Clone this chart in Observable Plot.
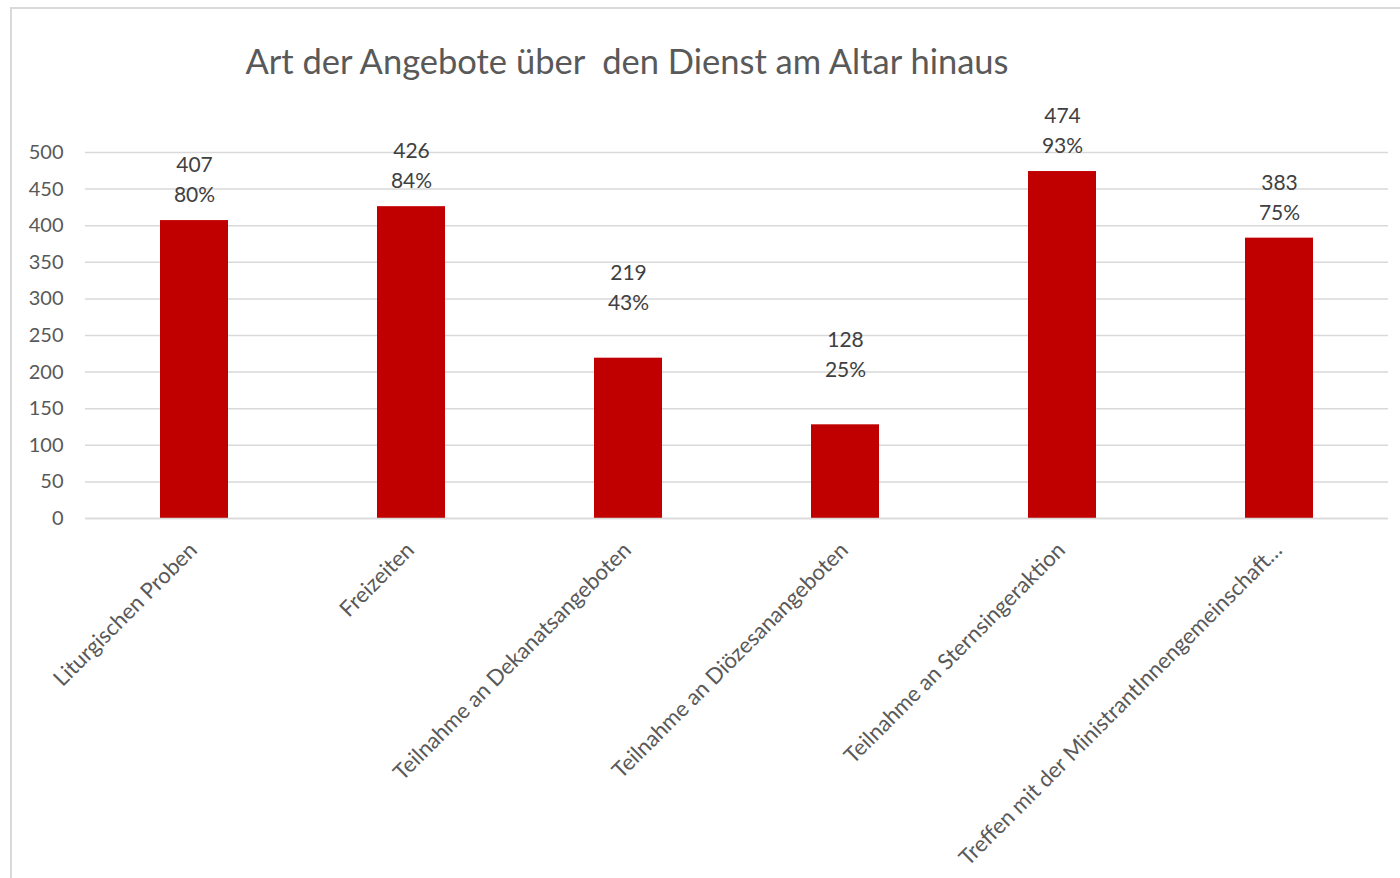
<!DOCTYPE html>
<html>
<head>
<meta charset="utf-8">
<script src="https://cdn.jsdelivr.net/npm/d3@7"></script>
<script src="https://cdn.jsdelivr.net/npm/@observablehq/plot@0.6"></script>
<style>
  html, body { margin: 0; padding: 0; background: #fff; }
  #wrap { position: relative; width: 1400px; height: 878px; overflow: hidden; font-family: Lato, "Open Sans", sans-serif; }
  #frame { position: absolute; left: 10px; top: 7px; width: 1400px; height: 900px; border-left: 2px solid #d9d9d9; border-top: 2px solid #d9d9d9; }
  #title { position: absolute; left: 627px; top: 40px; transform: translateX(-50%); white-space: pre; font-size: 34.5px; line-height: 1.2; color: #595959; }
  #chart { position: absolute; left: 0; top: 0; }
</style>
</head>
<body>
<div id="wrap">
  <div id="frame"></div>
  <div id="chart"></div>
  <div id="title">Art der Angebote über  den Dienst am Altar hinaus</div>
</div>
<script>
const categories = [
  "Liturgischen Proben",
  "Freizeiten",
  "Teilnahme an Dekanatsangeboten",
  "Teilnahme an Diözesanangeboten",
  "Teilnahme an Sternsingeraktion",
  "Treffen mit der MinistrantInnengemeinschaft…"
];
const counts = [407, 426, 219, 128, 474, 383];
const percents = ["80%", "84%", "43%", "25%", "93%", "75%"];
const yTicks = [0, 50, 100, 150, 200, 250, 300, 350, 400, 450, 500];

const data = categories.map((c, i) => ({cat: c, n: counts[i], pct: percents[i]}));
// labels of the two shorter bars sit higher in the reference
const raised = new Set([categories[2], categories[3]]);
const low = data.filter(d => !raised.has(d.cat));
const high = data.filter(d => raised.has(d.cat));

const labelStyle = {fontSize: 21, fill: "#404040"};

const chart = Plot.plot({
  width: 1400,
  height: 878,
  marginLeft: 85,
  marginRight: 12,
  marginTop: 152,
  marginBottom: 360,
  style: {fontFamily: "Lato, 'Open Sans', sans-serif", background: "transparent", overflow: "visible"},
  x: {domain: categories, paddingInner: 0.687, paddingOuter: 0.3435, label: null},
  y: {domain: [0, 500], label: null},
  marks: [
    Plot.gridY(yTicks, {stroke: "#d9d9d9", strokeOpacity: 1, strokeWidth: 1.5}),
    Plot.axisY(yTicks, {tickSize: 0, tickPadding: 22, fontSize: 20, fill: "#595959", label: null}),
    Plot.barY(data, {x: "cat", y: "n", fill: "#c00000"}),
    Plot.ruleY([0], {stroke: "#d9d9d9", strokeWidth: 1.5}),
    Plot.text(low, {x: "cat", y: "n", text: "pct", dy: -25, ...labelStyle}),
    Plot.text(low, {x: "cat", y: "n", text: d => String(d.n), dy: -55, ...labelStyle}),
    Plot.text(high, {x: "cat", y: "n", text: "pct", dy: -55, ...labelStyle}),
    Plot.text(high, {x: "cat", y: "n", text: d => String(d.n), dy: -85, ...labelStyle}),
    Plot.axisX({tickSize: 0, tickRotate: -45, tickPadding: 0, fontSize: 22, fill: "#595959", label: null, dx: -1, dy: 28})
  ]
});
document.getElementById("chart").appendChild(chart);
</script>
</body>
</html>
